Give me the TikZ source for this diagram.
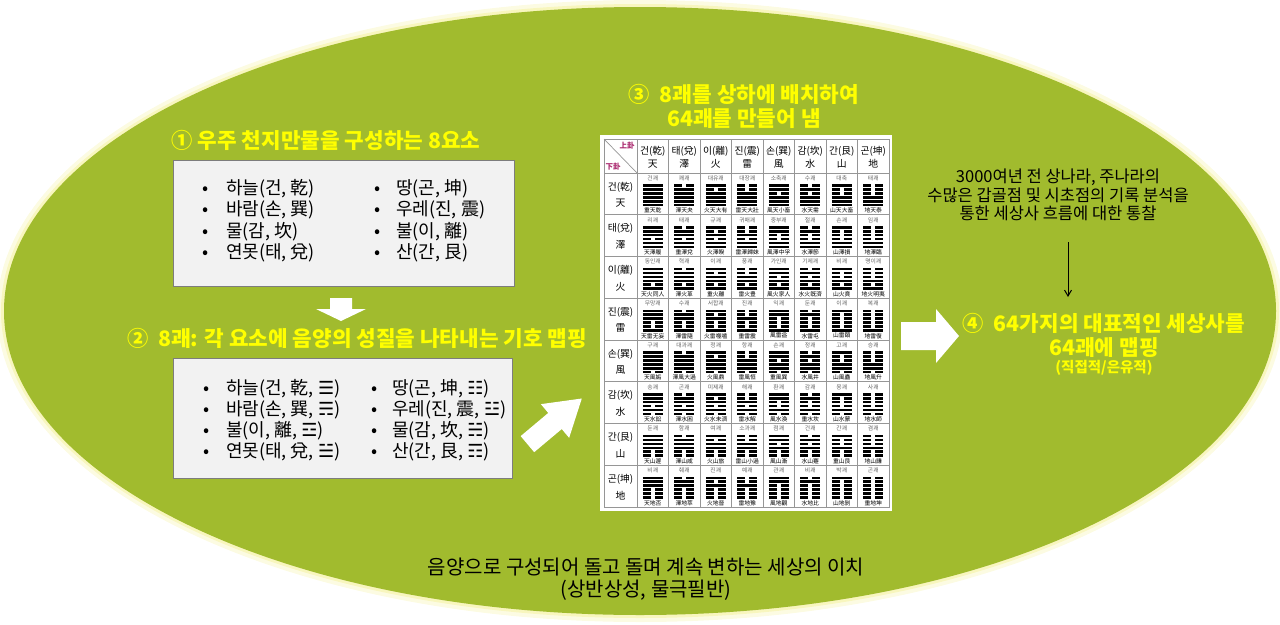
\documentclass[tikz,border=0pt]{standalone}
\usepackage{fontspec}
\setmainfont{Noto Sans CJK KR}
\newfontfamily\symf{DejaVu Sans}
\usetikzlibrary{arrows.meta}
\definecolor{egreen}{RGB}{161,187,46}
\definecolor{glowc}{RGB}{248,246,190}
\definecolor{titley}{RGB}{255,255,0}
\definecolor{boxf}{RGB}{242,242,242}
\definecolor{boxd}{RGB}{125,125,125}
\definecolor{gridc}{RGB}{150,150,150}
\definecolor{guac}{RGB}{170,40,110}
\newcommand{\tg}[1]{{\symf #1}}
\newcommand{\bitem}[2]{\makebox[#1][l]{•}#2}
\newcommand{\cellrow}[2]{%
  \foreach \nm/\cn [count=\j from 0] in {#2} {%
    \node[cellk] (k#1\j) at (637+31.5*\j+15.75, 173+41.75*#1+5.3) {\nm};
    \node[cellc] (z#1\j) at (637+31.5*\j+15.75, 173+41.75*#1+37.6) {\cn};
  }}
\begin{document}
\begin{tikzpicture}[x=1pt,y=-1pt,
  ttl/.style={text=titley, font=\fontsize{21.3}{24}\selectfont\bfseries, align=center, inner sep=0pt},
  itm/.style={anchor=base west, inner sep=0pt, font=\fontsize{18}{20}\selectfont},
  hdr/.style={inner sep=0pt, font=\fontsize{9.8}{10}\selectfont},
  cellk/.style={inner sep=0pt, text=black!60, font=\fontsize{5.8}{6}\selectfont},
  cellc/.style={inner sep=0pt, font=\fontsize{5.8}{6}\selectfont},
  hexl/.style={line width=2.6pt, line cap=butt},
  gridl/.style={draw=gridc, line width=0.7pt},
  blockarrow/.style={fill=white},
  boxst/.style={fill=boxf, draw=boxd, line width=0.8pt}
]
\useasboundingbox (0,0) rectangle (1280,624);
% background ellipse with soft glow
\fill[glowc, opacity=0.45] (640,311) ellipse [x radius=643pt, y radius=311pt];
\fill[glowc] (640,311) ellipse [x radius=639pt, y radius=307pt];
\fill[egreen] (640,311) ellipse [x radius=636pt, y radius=304pt];

% ---- step 1
\node[ttl] (t1) at (326,140) {① 우주 천지만물을 구성하는 8요소};
\draw[boxst] (173,160) rectangle (514,286);
\foreach \txt [count=\n from 0] in {{하늘(건, 乾)},{바람(손, 巽)},{물(감, 坎)},{연못(태, 兌)}}
  \node[itm] (a\n) at (202,194+21.6*\n) {\bitem{24pt}{\txt}};
\foreach \txt [count=\n from 0] in {{땅(곤, 坤)},{우레(진, 震)},{불(이, 離)},{산(간, 艮)}}
  \node[itm] (b\n) at (374,194+21.6*\n) {\bitem{22pt}{\txt}};

% down arrow
\fill[blockarrow] (330,298) -- (352,298) -- (352,309) -- (366,309) -- (341,321) -- (316,309) -- (330,309) -- cycle;

% ---- step 2
\node[ttl] (t2) at (357,338) {②\ \ 8괘: 각 요소에 음양의 성질을 나타내는 기호 맵핑};
\draw[boxst] (173,358) rectangle (512,478);
\foreach \txt [count=\n from 0] in {{하늘(건, 乾, \tg{☰})},{바람(손, 巽, \tg{☴})},{불(이, 離, \tg{☲})},{연못(태, 兌, \tg{☱})}}
  \node[itm] (c\n) at (203,394+21*\n) {\bitem{23pt}{\txt}};
\foreach \txt [count=\n from 0] in {{땅(곤, 坤, \tg{☷})},{우레(진, 震, \tg{☳})},{물(감, 坎, \tg{☵})},{산(간, 艮, \tg{☶})}}
  \node[itm] (d\n) at (371,394+21*\n) {\bitem{21pt}{\txt}};

% diagonal arrow
\begin{scope}[shift={(555,421)}, rotate=40]
  \fill[blockarrow] (-36,-10.5) -- (0,-10.5) -- (0,-22) -- (35,0) -- (0,22) -- (0,10.5) -- (-36,10.5) -- cycle;
\end{scope}

% ---- step 3
\node[ttl] (t3) at (744,106.5) {③\ \ 8괘를 상하에 배치하여\\64괘를 만들어 냄};
\fill[white] (600,135) rectangle (892,511);
\draw[gridl] (604,139) rectangle (889,507);
\foreach \k in {0,...,7} \draw[gridl] (637+31.5*\k,139) -- (637+31.5*\k,507);
\foreach \k in {0,...,7} \draw[gridl] (604,173+41.75*\k) -- (889,173+41.75*\k);
\draw[gridl] (604,139) -- (637,173);
\node[hdr, text=guac, font=\fontsize{7.5}{8}\selectfont\bfseries] (sang) at (627,146) {上卦};
\node[hdr, text=guac, font=\fontsize{7.5}{8}\selectfont\bfseries] (ha) at (613,167) {下卦};
\foreach \kn/\hz/\el [count=\c from 0] in {건/乾/天,태/兌/澤,이/離/火,진/震/雷,손/巽/風,감/坎/水,간/艮/山,곤/坤/地} {
  \node[hdr] (h\c) at (637+31.5*\c+15.75,151) {\kn(\hz)};
  \node[hdr] (he\c) at (637+31.5*\c+15.75,164) {\el};
  \node[hdr] (r\c) at (620.5,173+41.75*\c+14) {\kn(\hz)};
  \node[hdr] (re\c) at (620.5,173+41.75*\c+30) {\el};
}
% hexagrams: row = lower trigram, column = upper trigram
\foreach \i in {0,...,7} {
  \foreach \j in {0,...,7} {
    \foreach \k in {0,...,5} {
      \pgfmathtruncatemacro\hT{\k<3 ? \j : \i}
      \pgfmathtruncatemacro\hP{mod(\k,3)}
      \pgfmathtruncatemacro\hB{1-mod(floor(\hT/(2^\hP)),2)}
      \pgfmathsetmacro\cx{637+31.5*\j+15.75}
      \pgfmathsetmacro\ly{173+41.75*\i+12.6+3.9*\k}
      \ifnum\hB=1
        \draw[hexl] (\cx-10,\ly) -- (\cx+10,\ly);
      \else
        \draw[hexl] (\cx-10,\ly) -- (\cx-2,\ly) (\cx+2,\ly) -- (\cx+10,\ly);
      \fi
    }
  }
}
\cellrow{0}{건괘/重天乾,쾌괘/澤天夬,대유괘/火天大有,대장괘/雷天大壯,소축괘/風天小畜,수괘/水天需,대축/山天大畜,태괘/地天泰}
\cellrow{1}{리괘/天澤履,태괘/重澤兌,규괘/火澤睽,귀매괘/雷澤歸妹,중부괘/風澤中孚,절괘/水澤節,손괘/山澤損,임괘/地澤臨}
\cellrow{2}{동인괘/天火同人,혁괘/澤火革,이괘/重火離,풍괘/雷火豊,가인괘/風火家人,기제괘/水火旣濟,비괘/山火賁,명이괘/地火明夷}
\cellrow{3}{무망괘/天雷无妄,수괘/澤雷隨,서합괘/火雷噬嗑,진괘/重雷震,익괘/風雷益,둔괘/水雷屯,이괘/山雷頤,복괘/地雷復}
\cellrow{4}{구괘/天風姤,대과괘/澤風大過,정괘/火風鼎,항괘/雷風恒,손괘/重風巽,정괘/水風井,고괘/山風蠱,승괘/地風升}
\cellrow{5}{송괘/天水訟,곤괘/澤水困,미제괘/火水未濟,해괘/雷水解,환괘/風水渙,감괘/重水坎,몽괘/山水蒙,사괘/地水師}
\cellrow{6}{둔괘/天山遯,함괘/澤山咸,여괘/火山旅,소과괘/雷山小過,점괘/風山漸,건괘/水山蹇,간괘/重山艮,겸괘/地山謙}
\cellrow{7}{비괘/天地否,췌괘/澤地萃,진괘/火地晉,예괘/雷地豫,관괘/風地觀,비괘/水地比,박괘/山地剝,곤괘/重地坤}

% right arrow
\fill[blockarrow] (901,322) -- (936,322) -- (936,309) -- (959,336) -- (936,363) -- (936,350) -- (901,350) -- cycle;

% ---- step 4
\node[align=center, inner sep=0pt, font=\fontsize{16.5}{18.5}\selectfont] (note) at (1058,195) {3000여년 전 상나라, 주나라의\\수많은 갑골점 및 시초점의 기록 분석을\\통한 세상사 흐름에 대한 통찰};
\coordinate (n1) at (1068,242);
\coordinate (n2) at (1068,297);
\draw[line width=1pt, -{Straight Barb[length=6pt,width=7pt]}] (n1) -- (n2);
\node[ttl] (t4) at (1104,335) {④\ \ 64가지의 대표적인 세상사를\\64괘에 맵핑};
\node[ttl, font=\fontsize{14.5}{16}\selectfont\bfseries] (t4b) at (1104,368) {(직접적/은유적)};

% ---- bottom
\node[align=center, inner sep=0pt, font=\fontsize{20}{22}\selectfont] (bottom) at (646,579) {음양으로 구성되어 돌고 돌며 계속 변하는 세상의 이치\\(상반상성, 물극필반)};
\end{tikzpicture}
\end{document}
